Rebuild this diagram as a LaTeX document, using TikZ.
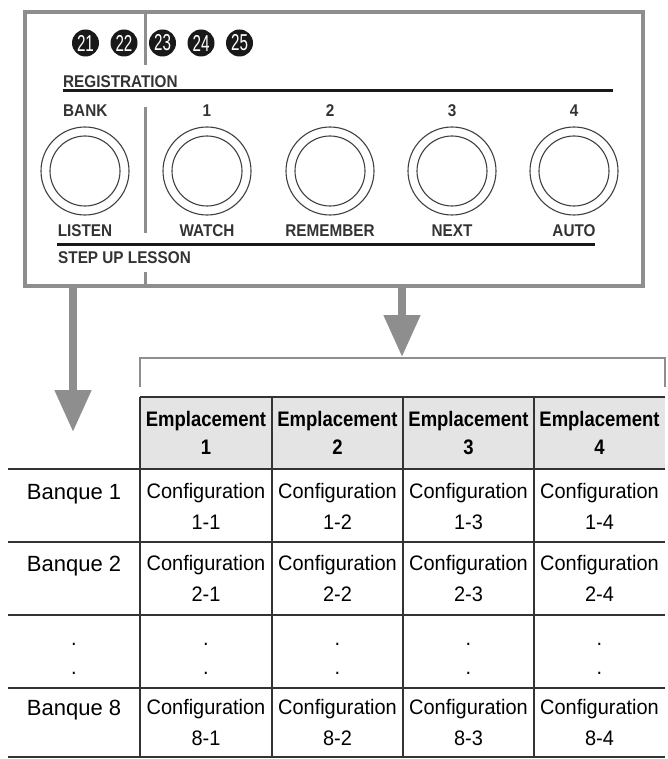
\documentclass[tikz,border=0pt]{standalone}
\usepackage{fontspec}
\setmainfont{Liberation Sans}
\newfontfamily\panelfont[FakeStretch=0.9]{Liberation Sans}
\newfontfamily\cellfont[FakeStretch=0.95]{Liberation Sans}
\newfontfamily\headfont[FakeStretch=0.88]{Liberation Sans}
\newfontfamily\tagfont[FakeStretch=0.66]{Liberation Sans}
\usepackage{xcolor}
\usepackage{tikz}
\usetikzlibrary{arrows.meta,positioning,calc}
\definecolor{framegray}{HTML}{8E8E8E}
\definecolor{inkgray}{HTML}{333333}
\definecolor{headgray}{HTML}{E4E4E4}
\tikzset{
  panel/.style={rectangle,draw=framegray,line width=3.5pt,minimum width=618pt,
                minimum height=274pt,inner sep=0pt},
  tag/.style={circle,fill=black!90,text=white,minimum size=27pt,inner sep=0pt,
              font=\tagfont\fontsize{23}{23}\selectfont},
  keylbl/.style={inner sep=0pt,text=inkgray,font=\panelfont\bfseries\fontsize{17}{17}\selectfont},
  btn/.style={circle,draw=black!75,line width=1.1pt,minimum size=88pt,inner sep=0pt},
  btnin/.style={circle,draw=black!75,line width=1.1pt,minimum size=70pt,inner sep=0pt},
  rule/.style={line width=3pt,draw=black!90},
  divider/.style={line width=3pt,draw=framegray},
  bigarr/.style={line width=8pt,draw=framegray,-{Triangle[width=35pt,length=42pt]}},
  brack/.style={line width=2pt,draw=framegray},
  grid/.style={line width=1.5pt,draw=black!80},
  cell/.style={align=center,inner sep=0pt,font=\cellfont\fontsize{21}{31}\selectfont},
  head/.style={align=center,inner sep=0pt,font=\headfont\bfseries\fontsize{21}{28}\selectfont},
  bank/.style={anchor=base,inner sep=0pt,font=\fontsize{22}{22}\selectfont},
}

\begin{document}
\begin{tikzpicture}[x=1pt,y=-1pt]
  \useasboundingbox (0,0) rectangle (668,759);
  % --- panneau ---
  \node[panel] (panel) at (334,149) {};
  \draw[divider] (145,12) -- (145,65);
  \draw[divider] (145,107) -- (145,233);
  \draw[divider] (145,272) -- (145,286);
  \foreach \n [count=\i] in {21,...,25}
    \node[tag] (t\n) at ({47+38.5*\i},43) {\n};
  \node[keylbl,anchor=base west] (reg) at (63,88) {REGISTRATION};
  \draw[rule] (63,91) -- (613,91);
  \node[keylbl,anchor=base west] (bank) at (63,117) {BANK};
  \node[btn] (b0) at (85,171) {};
  \node[btnin] (b0i) at (85,171) {};
  \node[keylbl,anchor=base] (l0) at (85,236) {LISTEN};
  \foreach \x/\num/\lbl in {207/1/WATCH,330/2/REMEMBER,452/3/NEXT,574/4/AUTO}{
    \node[keylbl,anchor=base] (n\num) at (\x,117) {\num};
    \node[btn] (b\num) at (\x,171) {};
    \node[btnin] (b\num i) at (\x,171) {};
    \node[keylbl,anchor=base] (l\num) at (\x,236) {\lbl};
  }
  \draw[rule] (57,244) -- (595,244);
  \node[keylbl,anchor=base west] (step) at (58,263) {STEP UP LESSON};
  % --- fleches ---
  \coordinate (banktip) at (73,432);
  \coordinate (slottip) at (402,357);
  \draw[bigarr] (panel.south -| banktip) -- (banktip);
  \draw[bigarr] (panel.south -| slottip) -- (slottip);
  \draw[brack] (140,387) -- (140,358) -- (665,358) -- (665,387);
  % --- tableau ---
  \fill[headgray] (140,397) rectangle (665,469);
  \draw[grid] (140,397) -- (665,397);
  \foreach \y in {469,542,615,688,757}
    \draw[grid] (8,\y) -- (665,\y);
  \foreach \x in {140,272,403,534}
    \draw[grid] (\x,397) -- (\x,757);
  \foreach \x [count=\c] in {206,337.5,468.5,599.5}
    \node[head] (h\c) at (\x,433) {Emplacement\\\c};
  \foreach \r/\y in {1/506,2/578.5,8/722.5}{
    \node[bank] (bq\r) at (74,\y-7) {Banque \r};
    \foreach \x [count=\c] in {206,337.5,468.5,599.5}
      \node[cell] (c\r\c) at (\x,\y) {Configuration\\\r-\c};
  }
  \foreach \x [count=\c] in {74,206,337.5,468.5,599.5}{
    \node[cell,anchor=base] (da\c) at (\x,645) {.};
    \node[cell,anchor=base] (db\c) at (\x,674) {.};
  }
\end{tikzpicture}
\end{document}
